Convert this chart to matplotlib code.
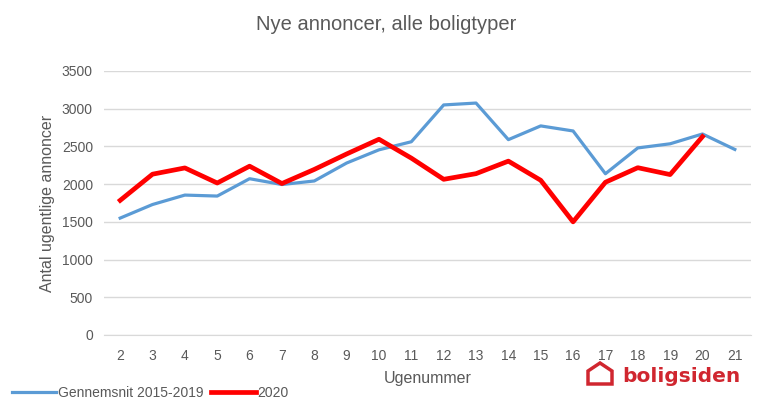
import matplotlib.pyplot as plt
from matplotlib.patches import Polygon

plt.rcParams['font.family'] = ['Liberation Sans Narrow', 'Liberation Sans', 'DejaVu Sans']

weeks = [2, 3, 4, 5, 6, 7, 8, 9, 10, 11, 12, 13, 14, 15, 16, 17, 18, 19, 20, 21]
avg_2015_2019 = [1550, 1730, 1855, 1842, 2072, 1995, 2042, 2280, 2455, 2562,
                 3050, 3075, 2590, 2772, 2705, 2138, 2480, 2535, 2665, 2460]
weeks_2020 = [2, 3, 4, 5, 6, 7, 8, 9, 10, 11, 12, 13, 14, 15, 16, 17, 18, 19, 20]
y2020 = [1785, 2132, 2215, 2015, 2238, 2008, 2195, 2400, 2595, 2345,
         2064, 2139, 2305, 2051, 1500, 2025, 2218, 2127, 2630]

grey = '#595959'

fig = plt.figure(figsize=(7.73, 4.12), dpi=100)
ax = fig.add_axes([104/773, 1 - 335/412, (751-104)/773, (335-71)/412])

l1, = ax.plot(weeks, avg_2015_2019, color='#5B9BD5', lw=2.3, solid_joinstyle='round',
              label='Gennemsnit 2015-2019')
l2, = ax.plot(weeks_2020, y2020, color='#FF0000', lw=3.4, solid_joinstyle='round',
              label='2020')

ax.set_xlim(1.5, 21.5)
ax.set_ylim(0, 3500)
ax.set_xticks(weeks)
ax.set_yticks(range(0, 3501, 500))
ax.yaxis.grid(True, color='#d9d9d9', lw=1)
ax.set_axisbelow(True)
for s in ['top', 'right', 'left']:
    ax.spines[s].set_visible(False)
ax.spines['bottom'].set_color('#d9d9d9')
ax.tick_params(length=0, colors=grey, labelsize=10)
ax.tick_params(axis='x', pad=10)
ax.tick_params(axis='y', pad=8)

ax.set_xlabel('Ugenummer', color=grey, fontsize=11.5, labelpad=6)
ax.set_ylabel('Antal ugentlige annoncer', color=grey, fontsize=11.5, labelpad=5)
fig.text(0.5, 1 - 25/412, 'Nye annoncer, alle boligtyper', ha='center', va='center',
         color=grey, fontsize=14.5)

fig.legend(handles=[l1, l2], loc='center left', bbox_to_anchor=(0.008, 1 - 393/412),
           ncol=2, frameon=False, fontsize=10, labelcolor=grey,
           handlelength=3.2, handletextpad=0.1, columnspacing=0.6, borderaxespad=0)

# boligsiden logo
logo_red = '#D0262F'
fig.text(622/773, 1 - 376/412, 'boligsiden', color=logo_red, fontsize=14.5,
         fontweight='bold', ha='left', va='center', family=['DejaVu Sans'])
house = Polygon([(588/773, 1 - 384/412), (588/773, 1 - 371/412), (600/773, 1 - 363/412),
                 (612/773, 1 - 371/412), (612/773, 1 - 384/412)],
                closed=True, fill=False, edgecolor=logo_red, lw=2.5,
                transform=fig.transFigure)
fig.patches.append(house)

fig.savefig('out.png', dpi=100)
